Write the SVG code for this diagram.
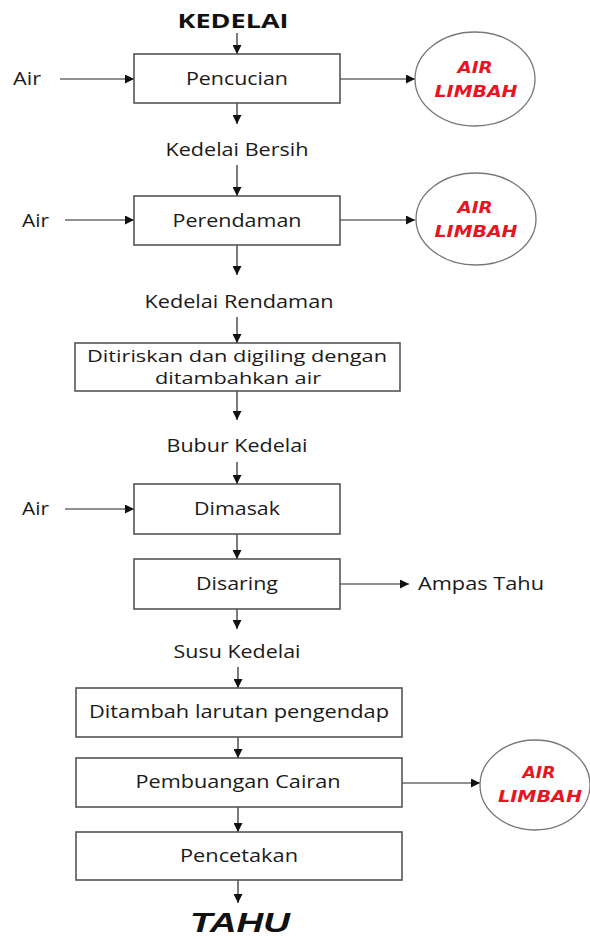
<svg xmlns="http://www.w3.org/2000/svg" width="590" height="939" viewBox="0 0 590 939">
<style>
.box{fill:#fff;stroke:#555;stroke-width:1.6}
.ell{fill:#fff;stroke:#777;stroke-width:1.3}
.t{font-family:"Open Sans","Liberation Sans",sans-serif;font-size:17.5px;fill:#1a1a1a;text-anchor:middle}
.s{font-size:16px}
.l{font-family:"Open Sans","Liberation Sans",sans-serif;font-size:17.5px;fill:#1a1a1a}
.w{font-family:"DejaVu Sans",sans-serif;font-size:16px;font-weight:bold;font-style:italic;fill:#e8141e;text-anchor:middle}
.h{font-family:"Open Sans","Liberation Sans",sans-serif;font-weight:bold;fill:#111;text-anchor:middle}
.c{stroke:#222;stroke-width:1.2;fill:none;marker-end:url(#ah)}
</style>
<defs>
<marker id="ah" viewBox="0 0 10 10" refX="10" refY="5" markerWidth="9" markerHeight="9" markerUnits="userSpaceOnUse" orient="auto">
<path d="M0,0 L10,5 L0,10 z" fill="#111"/>
</marker>
</defs>
<rect width="590" height="939" fill="#fff"/>
<g id="connectors">
<line class="c" x1="237" y1="33" x2="237" y2="54"/>
<line class="c" x1="60" y1="79" x2="134" y2="79"/>
<line class="c" x1="340" y1="79" x2="415" y2="79"/>
<line class="c" x1="237" y1="103" x2="237" y2="124"/>
<line class="c" x1="237" y1="165" x2="237" y2="196"/>
<line class="c" x1="65" y1="220" x2="134" y2="220"/>
<line class="c" x1="340" y1="220" x2="415" y2="220"/>
<line class="c" x1="237" y1="245" x2="237" y2="275"/>
<line class="c" x1="237" y1="317" x2="237" y2="343"/>
<line class="c" x1="237" y1="391" x2="237" y2="420"/>
<line class="c" x1="237" y1="462" x2="237" y2="484"/>
<line class="c" x1="65" y1="509" x2="134" y2="509"/>
<line class="c" x1="237" y1="534" x2="237" y2="559"/>
<line class="c" x1="340" y1="584" x2="409" y2="584"/>
<line class="c" x1="237" y1="609" x2="237" y2="629"/>
<line class="c" x1="238" y1="667" x2="238" y2="688"/>
<line class="c" x1="238" y1="737" x2="238" y2="758"/>
<line class="c" x1="402" y1="783" x2="480" y2="783"/>
<line class="c" x1="238" y1="807" x2="238" y2="832"/>
<line class="c" x1="238" y1="880" x2="238" y2="903"/>
</g>
<g id="kedelai"><text class="h" x="233" y="28" font-size="19.5" textLength="111" lengthAdjust="spacingAndGlyphs">KEDELAI</text></g>
<g id="air1"><text class="l" x="13" y="85" textLength="28" lengthAdjust="spacingAndGlyphs">Air</text></g>
<g id="pencucian"><rect class="box" x="134" y="54" width="206" height="49"/><text class="t" x="237" y="85" textLength="102" lengthAdjust="spacingAndGlyphs">Pencucian</text></g>
<g id="limbah1"><ellipse class="ell" cx="475" cy="79" rx="60" ry="47"/><text class="w" x="475" y="73" textLength="35" lengthAdjust="spacingAndGlyphs">AIR</text><text class="w" x="476" y="97" textLength="83" lengthAdjust="spacingAndGlyphs">LIMBAH</text></g>
<g id="kedelai-bersih"><text class="t" x="237" y="156" textLength="143" lengthAdjust="spacingAndGlyphs">Kedelai Bersih</text></g>
<g id="air2"><text class="l" x="22" y="227" textLength="27" lengthAdjust="spacingAndGlyphs">Air</text></g>
<g id="perendaman"><rect class="box" x="134" y="196" width="206" height="49"/><text class="t" x="237" y="227" textLength="129" lengthAdjust="spacingAndGlyphs">Perendaman</text></g>
<g id="limbah2"><ellipse class="ell" cx="476" cy="219" rx="60" ry="46"/><text class="w" x="475" y="213" textLength="35" lengthAdjust="spacingAndGlyphs">AIR</text><text class="w" x="476" y="237" textLength="83" lengthAdjust="spacingAndGlyphs">LIMBAH</text></g>
<g id="kedelai-rendaman"><text class="t" x="239" y="308" textLength="189" lengthAdjust="spacingAndGlyphs">Kedelai Rendaman</text></g>
<g id="ditiriskan"><rect class="box" x="75" y="343" width="325" height="48"/><text class="t s" x="237" y="362" textLength="300" lengthAdjust="spacingAndGlyphs">Ditiriskan dan digiling dengan</text><text class="t s" x="238" y="384" textLength="166" lengthAdjust="spacingAndGlyphs">ditambahkan air</text></g>
<g id="bubur-kedelai"><text class="t" x="237" y="452" textLength="141" lengthAdjust="spacingAndGlyphs">Bubur Kedelai</text></g>
<g id="air3"><text class="l" x="22" y="515" textLength="27" lengthAdjust="spacingAndGlyphs">Air</text></g>
<g id="dimasak"><rect class="box" x="134" y="484" width="206" height="50"/><text class="t" x="237" y="515" textLength="86" lengthAdjust="spacingAndGlyphs">Dimasak</text></g>
<g id="disaring"><rect class="box" x="134" y="559" width="206" height="50"/><text class="t" x="237" y="590" textLength="82" lengthAdjust="spacingAndGlyphs">Disaring</text></g>
<g id="ampas-tahu"><text class="l" x="418" y="590" textLength="126" lengthAdjust="spacingAndGlyphs">Ampas Tahu</text></g>
<g id="susu-kedelai"><text class="t" x="237" y="658" textLength="127" lengthAdjust="spacingAndGlyphs">Susu Kedelai</text></g>
<g id="ditambah"><rect class="box" x="76" y="688" width="326" height="49"/><text class="t" x="239" y="718" textLength="300" lengthAdjust="spacingAndGlyphs">Ditambah larutan pengendap</text></g>
<g id="pembuangan"><rect class="box" x="76" y="758" width="326" height="49"/><text class="t" x="238" y="788" textLength="205" lengthAdjust="spacingAndGlyphs">Pembuangan Cairan</text></g>
<g id="limbah3"><ellipse class="ell" cx="535" cy="785" rx="55" ry="45"/><text class="w" x="539" y="778" textLength="33" lengthAdjust="spacingAndGlyphs">AIR</text><text class="w" x="540" y="802" textLength="84" lengthAdjust="spacingAndGlyphs">LIMBAH</text></g>
<g id="pencetakan"><rect class="box" x="76" y="832" width="326" height="48"/><text class="t" x="239" y="862" textLength="118" lengthAdjust="spacingAndGlyphs">Pencetakan</text></g>
<g id="tahu"><text x="240" y="932" font-family="'Liberation Sans',Arial,sans-serif" font-weight="bold" font-style="italic" font-size="28" fill="#111" text-anchor="middle" textLength="100" lengthAdjust="spacingAndGlyphs">TAHU</text></g>
</svg>
